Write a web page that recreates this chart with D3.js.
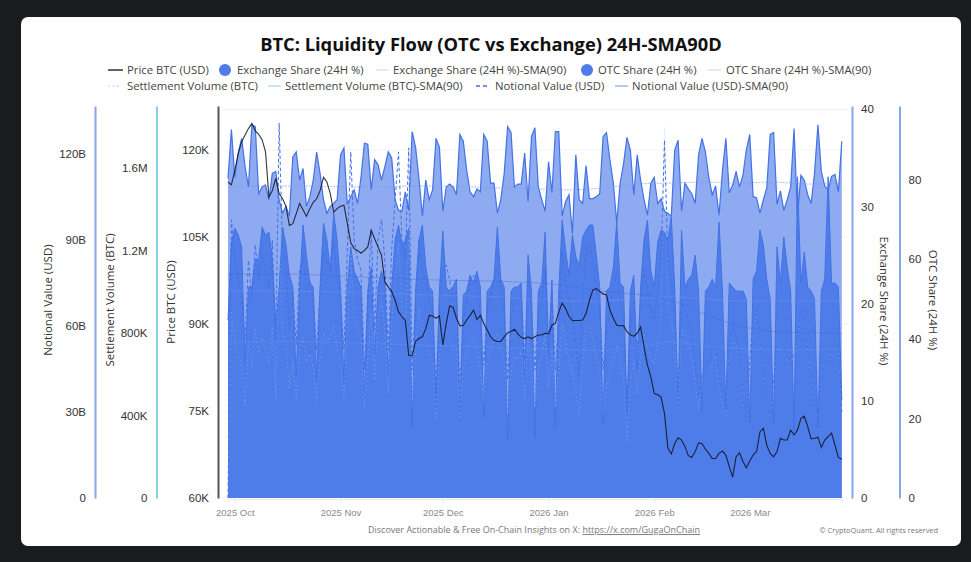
<!DOCTYPE html>
<html><head><meta charset="utf-8">
<script src="https://cdn.jsdelivr.net/npm/d3@7"></script>
<style>
html,body{margin:0;padding:0;background:#1a1b1f;}
svg{display:block;font-family:"Open Sans","Noto Sans",sans-serif;}
.ax text{font-size:11.5px;fill:#333;}
.ax .domain{stroke-width:2;}
.ax line{display:none;}
.xa text{font-size:9.5px;fill:#8a8a8a;}
.xa line{stroke:#e6e6e6;display:block;}
.xa .domain{stroke:#eee;stroke-width:1;}
.ttl{font-size:11.5px;fill:#333;text-anchor:middle;}
.leg{font-size:11.3px;fill:#444;}
</style></head><body>
<svg id="c" width="971" height="562"></svg>
<script>
const startDay = new Date(2025, 8, 29);
const monthTicks = [new Date(2025,9,1),new Date(2025,10,1),new Date(2025,11,1),new Date(2026,0,1),new Date(2026,1,1),new Date(2026,2,1)];

const priceK = [114.5,114,116.5,119.4,121.4,122.6,123.7,124.6,123.3,122.7,
121.8,119.7,111.9,113,115.1,112.5,111.6,110.3,107,107.3,
109,110.8,109.7,108.6,109.9,111,111.6,113,115.3,114.5,
112.5,109.3,109.9,110.3,110.5,107.3,104,103,102.7,102.2,
102.7,103.3,106.2,104.7,103.3,101.9,97.3,96.4,95.6,94.1,
92.1,91.3,90.6,84.6,84.5,87,87.5,87.8,89.2,91.5,
91.4,91,91.4,86.4,90.1,93.1,92.9,91,89.7,89.8,
90.7,91.5,92.4,90.8,91.5,90.1,89,87.8,87.2,87,
87,87.8,88.5,88.7,89.1,88.3,87.7,87.5,87.8,87.5,
87.8,88.1,88.1,88.4,88.3,89.8,90.1,92.1,93.6,92.7,
91.3,90.6,90.6,90.6,90.7,91.8,94.1,95.9,96.1,95.6,
95.2,95,92.4,91,89.8,89.7,89.7,88.7,88.1,87.9,
88.4,89.5,86.1,82.9,80.9,78,77.8,77.4,74.6,68.6,
67.6,69.4,70.4,70,68.9,67.3,67,68,69.5,69.4,
68.4,67.7,66.8,66.8,67.7,68.1,67.4,65.4,63.6,67.1,
67.8,66.3,65.2,66.4,67.4,68,71.4,72,69.1,67.7,
67.1,68,70.3,70,70,71.7,70.9,71.7,73.7,74.1,
72.3,70.2,70.3,70.5,68.7,70,70.6,71.2,69.1,67,66.7];

const exchangeShare = [32.9,37.9,33,35.5,37,34.1,32,38.4,38.2,31.3,
32,32.2,30.7,33.4,33.6,30.7,29.3,30,29,35.1,
35.6,32.7,33.9,30,31,32.7,35.6,33.4,30.7,29.3,
30,30.3,30.7,35.3,36,30.2,31,31.7,30.3,33,
36.5,36.4,31.7,34.8,34.3,32.7,34.1,35.6,35,30.7,
29.6,29.5,31.5,29.6,37.7,36.1,32.9,29,32.7,30.7,
31.7,37,36.1,29.5,32,32.3,32,31.2,37.4,36.7,
33.7,31.5,31,31.8,31.5,37.4,36.7,32.4,32.4,29.3,
30.7,33.4,38.2,37.6,32,32.3,32.3,35.5,30.5,37.2,
38.1,32,30.7,29.5,34.6,31.4,37.7,37.7,29,30.5,
31.2,27.2,35.3,30.7,30.3,34.2,30.8,30.8,31,31.3,
37.2,37.6,34.8,32.4,28.3,32.4,34.4,37.1,35.8,31.2,
35.3,32.7,30.7,29.1,32.4,33,30.3,30.8,29.5,29.3,
29,35.8,36.8,29.5,32.4,31.8,31.3,30.3,35.3,37,
35.6,33,31.2,32.1,29.1,33.7,37,31.4,32.2,33.6,
32,33.2,35.8,37.4,31,30.9,29.3,30.7,31.9,37.4,
37.6,30.2,31.6,29.6,30.7,32,38,29,33.2,32.7,
31.2,30.3,33.4,38.4,33.6,32.1,31.7,33.1,33.3,31.5,36.7];

const otcShare = [44.7,64.1,67.8,66.1,63.1,33.9,53,53,60,60,
68.1,66.1,66.8,60,43.5,53,68.1,63.6,56,53,
30.4,53,68.6,61,54,53,29.6,53,69.1,64.8,
57,71.6,64.8,53,28.9,53,63.1,57,55,53,
25.1,52,58,35.9,53,57,54,30.2,53,64.8,
68.6,63.6,64.8,67.8,17.6,52,64.8,68.6,58,53,
52,22.1,52,67.1,53,52,53,55,19.3,51,
52,56,54,57,53,20.4,52,53,55,68.1,
55,53,14.6,52,53,53,54,28.9,61.1,52,
15.1,52,54,66.8,35.9,54.8,17.8,52,69.8,62.3,
56,66.1,60.6,58.5,65.6,67.3,68.6,68.6,61.1,53,
18.8,52,53,58,69.1,54,53,20.9,52,56,
32.2,53,64.8,69.8,57,53,64.3,67.3,66.8,64.8,
70.6,53,22.6,67.3,53,55,56,61,52,21.6,
52,53,55,53,69.3,52,22.1,54,53,52,
52,52,50,19.1,55,57,67.3,63.6,55,50,
18.8,63.1,54,65.6,58,52,17.1,80.7,54,61.8,
53,52,50,17.6,52,55,80.7,54,54,53,24.6];

const notionalB = [0,96.9,82.9,76,69,55.1,82.9,69,88.2,76,
84.7,79.4,72.5,89.9,53.3,130.7,86.4,81.2,58.5,72.5,
53.3,79.4,84.7,72.5,76,69,51.6,72.5,86.4,81.2,
82.9,89.9,76,69,51.6,86.4,120.6,89.9,82.9,79.4,
44.6,69,93.4,58.5,89.9,96.9,82.9,51.6,86.4,103.8,
120.6,89.9,82.9,122,44.6,69,89.9,79.4,76,69,
65.5,37.6,69,79.4,81.2,76,69,72.5,37.6,62,
69,76,77.7,74.2,62,46.3,65.5,70.7,76,79.4,
72.5,65.5,41.1,62,69,67.2,70.7,48.1,76,65.5,
44.6,65.5,69,79.4,53.3,72.5,44.6,62,86.4,76,
69,62,53.3,41.8,69,86.4,88.2,82.9,72.5,65.5,
44.6,58.5,65.5,72.5,79.4,69,62,29.6,58.5,69,
51.6,69,79.4,72.5,65.5,62,72.5,82.9,124.7,82.9,
76,65.5,35.9,69,65.5,62,57.5,46.3,35.2,42.9,
45.3,47.4,51.6,54,42.9,35.9,30.7,51.6,59.6,56.8,
48.1,34.1,26.5,48.1,62,65.5,55.1,42.9,32.4,28.2,
41.1,51.6,55.1,51.6,48.1,48.8,49.5,56.8,65.5,63.8,
51.6,39.4,30.7,28.2,41.1,48.1,47.4,51.6,55.1,53.3,29.6];

const settlementK = [0,900,760,700,640,450,760,640,820,700,
780,720,650,830,480,1300,800,750,530,660,
480,720,780,660,700,640,470,680,800,760,
780,840,720,650,480,830,1180,870,800,770,
430,670,900,570,880,950,820,510,860,1050,
1240,920,850,1260,460,710,920,810,770,700,
660,380,700,810,820,770,700,730,380,630,
700,770,780,740,620,470,650,710,770,800,
730,660,410,620,690,670,710,480,770,650,
440,650,690,790,530,720,440,610,850,740,
670,600,510,400,660,830,830,770,680,610,
410,540,610,670,740,650,590,280,560,670,
500,680,790,730,680,650,760,880,1800,920,
860,760,420,820,780,740,690,560,430,530,
560,590,650,690,550,460,400,670,770,740,
640,460,360,650,840,890,750,590,440,390,
570,710,760,710,660,670,680,780,900,880,
710,550,430,390,570,670,660,720,770,740,410];

const smaDayIndex = [0,20,40,60,80,90,100,110,120,130,140,150,160,170,180];
const exchangeSma = [32.0,32.1,32.0,32.1,31.9,31.8,31.7,31.9,32.3,32.4,32.5,32.4,32.5,32.3,32.4];
const otcSma = [52,52,51.5,51,50.5,50,49.5,49.5,50,50.5,50,49.5,49.5,49.5,49.5];
const settlementSma = [760,760,750,740,730,725,720,715,730,760,735,725,720,720,725];
const notionalSma = [78,78,77,76,75.5,75,74,72,71,69,64,60,58,57.6,57.4];

const valueTicks = {
  notional:[0,30,60,90,120], settlement:[0,400,800,1200,1600],
  price:[60,75,90,105,120], exchange:[0,10,20,30,40], otc:[0,20,40,60,80]
};

const svg = d3.select("#c");
svg.append("rect").attr("x",21).attr("y",17).attr("width",940).attr("height",529).attr("rx",7).attr("fill","#fff");

const yTop=106, yBot=498, xL=228, xR=841.8;
const dayOf = i => d3.timeDay.offset(startDay,i);
const x = d3.scaleTime().domain([startDay,dayOf(180)]).range([xL,xR]);
const yPrice = d3.scaleLinear().domain([60,127.6]).range([yBot,yTop]);
const yEx = d3.scaleLinear().domain([0,40.33]).range([yBot,yTop]);
const yOtc = d3.scaleLinear().domain([0,98.5]).range([yBot,yTop]);
const yNot = d3.scaleLinear().domain([0,136.6]).range([yBot,yTop]);
const ySet = d3.scaleLinear().domain([0,1902]).range([yBot,yTop]);

// gridlines
const grid = svg.append("g");
valueTicks.price.concat([127]).forEach(v=>grid.append("line").attr("x1",222).attr("x2",848)
  .attr("y1",yPrice(v)).attr("y2",yPrice(v)).attr("stroke","#f3f3f3"));

const area = (vals,y)=>d3.area().x((d,i)=>x(dayOf(i))).y0(yBot).y1(d=>y(d))(vals);
const line = (vals,y)=>d3.line().x((d,i)=>x(dayOf(i))).y(d=>y(d))(vals);
const smaLine = (vals,y)=>d3.line().curve(d3.curveCatmullRom).x((d,i)=>x(dayOf(smaDayIndex[i]))).y(d=>y(d))(vals);

svg.append("path").attr("d",area(exchangeShare,yEx)).attr("fill","#8eaaf0");
svg.append("path").attr("d",line(exchangeShare,yEx)).attr("fill","none").attr("stroke","#4272e4").attr("stroke-width",1.2);
svg.append("path").attr("d",area(otcShare,yOtc)).attr("fill","#4e7ce9");
svg.append("path").attr("d",line(otcShare,yOtc)).attr("fill","none").attr("stroke","#4272e4").attr("stroke-width",1);

svg.append("path").attr("d",line(settlementK,ySet)).attr("fill","none").attr("stroke","#8fc8f0").attr("stroke-width",1).attr("stroke-dasharray","1.5 3").attr("opacity",.4);
svg.append("path").attr("d",line(notionalB,yNot)).attr("fill","none").attr("stroke","#4271e4").attr("stroke-width",1).attr("stroke-dasharray","3.5 2.5");

svg.append("path").attr("d",smaLine(exchangeSma,yEx)).attr("fill","none").attr("stroke","#7b9bea").attr("stroke-width",.9).attr("stroke-dasharray","2 1").attr("opacity",.7);
svg.append("path").attr("d",smaLine(otcSma,yOtc)).attr("fill","none").attr("stroke","#86a4ee").attr("stroke-width",.7).attr("opacity",.45);
svg.append("path").attr("d",smaLine(settlementSma,ySet)).attr("fill","none").attr("stroke","#6fa6ee").attr("stroke-width",.7).attr("opacity",.45);
svg.append("path").attr("d",smaLine(notionalSma,yNot)).attr("fill","none").attr("stroke","#3f6ad8").attr("stroke-width",.7).attr("opacity",.6);

svg.append("path").attr("d",line(priceK,yPrice)).attr("fill","none").attr("stroke","#10131f").attr("stroke-width",1.1).attr("opacity",.85);

// axes
function addAxis(gen,xp,scale,ticks,fmt,color,pad){
  const g = svg.append("g").attr("class","ax").attr("transform",`translate(${xp},0)`)
   .call(gen(scale).tickValues(ticks).tickFormat(fmt).tickSize(0).tickPadding(pad));
  g.select(".domain").attr("stroke",color);
  return g;
}
const fmtB=d=>d===0?"0":d+"B";
const fmtS=d=>d===0?"0":d>=1000?(d/1000)+"M":d+"K";
addAxis(d3.axisLeft,95,yNot,valueTicks.notional,fmtB,"#8aa6ea",9);
addAxis(d3.axisLeft,156.5,ySet,valueTicks.settlement,fmtS,"#84d0df",9);
addAxis(d3.axisLeft,218,yPrice,valueTicks.price,d=>d+"K","#555",9);
addAxis(d3.axisRight,852,yEx,valueTicks.exchange,d=>d,"#8aa6ea",9);
addAxis(d3.axisRight,899.5,yOtc,valueTicks.otc,d=>d,"#8aa6ea",9);

const xa = svg.append("g").attr("class","xa").attr("transform",`translate(0,${yBot+1})`)
  .call(d3.axisBottom(x).tickValues(monthTicks).tickFormat(d3.timeFormat("%Y %b")).tickSize(4).tickPadding(6));

const titles=[["Notional Value (USD)",48,300,-90],["Settlement Volume (BTC)",110,300,-90],["Price BTC (USD)",171,302,-90],
 ["Exchange Share (24H %)",884,301,90],["OTC Share (24H %)",933,300,90]];
titles.forEach(t=>svg.append("text").attr("class","ttl").attr("transform",`translate(${t[1]},${t[2]}) rotate(${t[3]})`)
  .attr("dy","0.35em").text(t[0]));

svg.append("text").attr("x",491).attr("y",51).attr("text-anchor","middle").attr("font-size",18.3).attr("font-weight",700).attr("fill","#111").text("BTC: Liquidity Flow (OTC vs Exchange) 24H-SMA90D");

// legend
const legendNames=["Price BTC (USD)","Exchange Share (24H %)","Exchange Share (24H %)-SMA(90)","OTC Share (24H %)","OTC Share (24H %)-SMA(90)",
"Settlement Volume (BTC)","Settlement Volume (BTC)-SMA(90)","Notional Value (USD)","Notional Value (USD)-SMA(90)"];
const legendLayout=[[108,123,127,70,"#222",1.4,null],[225,0,237,70,"#4e7ce9",0,"c"],[376,388,393,70,"#c6d4f4",1,null],
 [587,0,598,70,"#4e7ce9",0,"c"],[708,721,726,70,"#c6d4f4",1,null],
 [108,121,127,86,"#9ccdec",1.2,"1.5 3"],[268,281,285,86,"#8fcbe6",1,null],[476,490,495,86,"#3f6fe2",1.3,"4 3"],[615,628,632,86,"#6f8ee0",1,null]];
legendNames.forEach((n,i)=>{
  const l=legendLayout[i];
  if(l[6]==="c") svg.append("circle").attr("cx",l[0]).attr("cy",l[3]).attr("r",6).attr("fill",l[4]);
  else { const s=svg.append("line").attr("x1",l[0]).attr("x2",l[1]).attr("y1",l[3]).attr("y2",l[3]).attr("stroke",l[4]).attr("stroke-width",l[5]);
    if(l[6]) s.attr("stroke-dasharray",l[6]); }
  svg.append("text").attr("class","leg").attr("x",l[2]).attr("y",l[3]).attr("dy","0.35em").text(n);
});

// footer
const foot=svg.append("text").attr("x",368).attr("y",533).attr("font-size",9).attr("fill","#777");
foot.append("tspan").text("Discover Actionable & Free On-Chain Insights on X: ");
foot.append("tspan").attr("text-decoration","underline").text("https://x.com/GugaOnChain");
svg.append("text").attr("x",938).attr("y",533).attr("text-anchor","end").attr("font-size",7.4).attr("fill","#777").text("© CryptoQuant. All rights reserved");
</script></body></html>
